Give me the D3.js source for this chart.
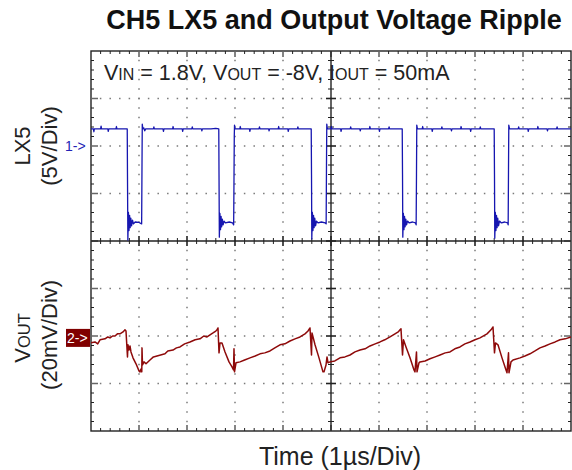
<!DOCTYPE html>
<html><head><meta charset="utf-8">
<script src="https://cdn.jsdelivr.net/npm/d3@7"></script>
<style>
html,body{margin:0;padding:0;background:#fff;}
svg{display:block;font-family:"Liberation Sans",Arial,Helvetica,sans-serif;}
</style></head><body>
<svg id="chart" width="572" height="470"></svg>
<script>
// Time base: 1 µs/div over 10 divisions
const timeDomain = [0, 10];
const ch1VoltsPerDiv = 5;    // LX5, V/div
const ch2MilliPerDiv = 20;   // VOUT, mV/div
const ch1ZeroDiv = 6;        // channel 1 ground, divisions above the bottom edge
const ch2ZeroDiv = 1.96;     // channel 2 ground, divisions above the bottom edge

// LX5 switch node, [time µs, volts]
const lx5Trace = [
  [0.00,1.8],[0.05,1.8],[0.06,1.5],[0.07,1.8],[0.20,1.8],[0.21,2.1],[0.22,1.8],[0.35,1.8],[0.36,1.55],[0.37,1.8],
  [0.52,1.8],[0.53,2.05],[0.54,1.8],[0.70,1.8],[0.755,1.8],
  [0.760,-3.0],[0.768,-9.9],[0.780,-7.0],[0.792,-8.9],[0.804,-7.3],[0.816,-8.6],[0.830,-7.6],[0.845,-8.4],[0.865,-7.8],
  [0.885,-8.2],[0.92,-8.0],[1.00,-8.05],[1.055,-8.2],
  [1.0625,-2.0],[1.068,2.3],[1.08,1.8],[1.10,1.9],[1.12,1.6],[1.14,1.8],[1.30,1.8],[1.31,2.0],[1.32,1.8],[1.50,1.8],
  [1.51,1.55],[1.52,1.8],[1.70,1.8],[1.71,2.05],[1.72,1.8],[1.90,1.8],[1.91,1.55],[1.92,1.8],[2.10,1.8],[2.11,2.0],
  [2.12,1.8],[2.30,1.8],[2.31,1.6],[2.32,1.8],[2.50,1.8],[2.60,1.85],[2.662,1.8],
  [2.667,-3.0],[2.674,-9.6],[2.686,-7.1],[2.698,-8.8],[2.710,-7.4],[2.722,-8.5],[2.736,-7.7],[2.752,-8.3],[2.772,-7.9],
  [2.80,-8.1],[2.88,-8.0],[2.95,-8.1],[2.972,-8.3],
  [2.979,-3.5],[2.985,1.0],[2.99,2.2],[3.00,1.8],[3.10,1.8],[3.11,2.05],[3.12,1.8],[3.30,1.8],[3.31,1.55],[3.32,1.8],
  [3.50,1.8],[3.51,2.0],[3.52,1.8],[3.70,1.8],[3.71,1.6],[3.72,1.8],[3.90,1.8],[3.91,2.05],[3.92,1.8],[4.10,1.8],
  [4.11,1.55],[4.12,1.8],[4.30,1.8],[4.31,2.0],[4.32,1.8],[4.50,1.8],[4.588,1.8],
  [4.594,-3.0],[4.600,-9.8],[4.612,-7.0],[4.624,-8.9],[4.636,-7.3],[4.648,-8.6],[4.662,-7.6],[4.678,-8.4],[4.698,-7.9],
  [4.73,-8.1],[4.80,-8.0],[4.88,-8.1],[4.899,-8.2],
  [4.906,-2.0],[4.912,2.3],[4.925,1.8],[5.00,1.8],[5.01,2.05],[5.02,1.8],[5.20,1.8],[5.21,1.55],[5.22,1.8],[5.40,1.8],
  [5.41,2.0],[5.42,1.8],[5.60,1.8],[5.61,1.6],[5.62,1.8],[5.80,1.8],[5.81,2.05],[5.82,1.8],[6.00,1.8],[6.01,1.55],
  [6.02,1.8],[6.20,1.8],[6.21,2.0],[6.22,1.8],[6.40,1.8],[6.484,1.8],
  [6.490,-3.0],[6.496,-9.6],[6.508,-7.1],[6.520,-8.8],[6.532,-7.4],[6.544,-8.5],[6.558,-7.7],[6.574,-8.3],[6.594,-7.9],
  [6.63,-8.1],[6.70,-8.0],[6.76,-8.1],[6.774,-8.3],
  [6.781,-3.0],[6.787,2.2],[6.80,1.8],[6.90,1.8],[6.91,2.05],[6.92,1.8],[7.10,1.8],[7.11,1.55],[7.12,1.8],[7.30,1.8],
  [7.31,2.0],[7.32,1.8],[7.50,1.8],[7.51,1.6],[7.52,1.8],[7.70,1.8],[7.71,2.05],[7.72,1.8],[7.90,1.8],[7.91,1.55],
  [7.92,1.8],[8.10,1.8],[8.11,2.0],[8.12,1.8],[8.30,1.8],[8.40,1.8],
  [8.406,-3.0],[8.412,-9.7],[8.424,-7.0],[8.436,-8.9],[8.448,-7.3],[8.460,-8.6],[8.474,-7.6],[8.490,-8.4],[8.510,-7.9],
  [8.55,-8.1],[8.62,-8.0],[8.68,-8.1],[8.691,-8.3],
  [8.698,-2.5],[8.704,2.2],[8.72,1.8],[8.90,1.8],[8.91,2.0],[8.92,1.8],[9.10,1.8],[9.11,1.55],[9.12,1.8],[9.30,1.8],
  [9.31,2.05],[9.32,1.8],[9.50,1.8],[9.51,1.6],[9.52,1.8],[9.70,1.8],[9.71,2.0],[9.72,1.8],[9.90,1.8],[10.0,1.8]
];

// Output voltage ripple (AC), [time µs, millivolts]
const voutTrace = [
  [0,-2.1],[0.083,-1.7],[0.14,-2.5],[0.188,-0.8],[0.292,-0.4],[0.35,0.4],[0.396,0],[0.45,0.8],[0.5,0.8],[0.55,1.7],
  [0.604,1.7],[0.667,2.5],[0.708,3.4],[0.729,2.9],
  [0.760,-8.0],[0.771,-2.9],[0.792,-5.1],[0.8125,-3.4],[0.833,-5.9],[0.875,-8.4],[0.9375,-10.9],[1.0,-13.9],[1.021,-14.3],
  [1.042,-13.1],[1.058,-14.3],[1.0625,-4.2],[1.073,-11.4],[1.104,-10.1],[1.146,-10.9],[1.229,-9.3],[1.30,-8.0],
  [1.375,-7.6],[1.45,-7.2],[1.542,-6.7],[1.60,-5.5],[1.708,-5.1],[1.78,-4.2],[1.854,-3.8],[1.95,-2.5],[2.0625,-1.7],
  [2.17,-0.8],[2.271,-0.4],[2.35,0.8],[2.417,0.4],[2.48,1.3],[2.542,2.1],[2.60,2.9],[2.625,3.4],[2.646,4.2],
  [2.667,-6.3],[2.6875,-2.1],[2.729,-2.1],[2.792,-5.9],[2.875,-10.1],[2.9375,-12.2],[2.969,-13.5],[2.979,-4.6],
  [2.990,-14.3],[3.021,-10.5],[3.104,-10.1],[3.20,-9.3],[3.3125,-8.4],[3.42,-7.6],[3.521,-6.7],[3.62,-6.3],[3.729,-5.5],
  [3.83,-4.2],[3.9375,-2.9],[4.04,-2.5],[4.146,-1.3],[4.25,-0.4],[4.354,0.4],[4.458,1.7],[4.521,2.9],[4.5625,4.2],
  [4.594,-7.2],[4.604,2.1],[4.667,-2.9],[4.75,-8.4],[4.833,-14.3],[4.854,-14.3],[4.896,-11.4],[4.917,-8.0],[4.9375,-10.5],
  [4.979,-10.1],[5.08,-9.7],[5.1875,-8.4],[5.29,-8.0],[5.396,-7.2],[5.50,-5.9],[5.604,-5.1],[5.71,-4.6],[5.8125,-3.4],
  [5.92,-2.5],[6.021,-1.7],[6.12,-0.8],[6.229,0.4],[6.333,1.7],[6.40,2.5],[6.4375,3.4],[6.458,3.8],
  [6.490,-7.2],[6.510,-0.8],[6.5625,-3.8],[6.646,-8.4],[6.729,-13.5],[6.75,-14.3],[6.781,-5.9],[6.792,-14.3],[6.833,-10.5],
  [6.854,-10.1],[6.96,-9.7],[7.0625,-8.8],[7.17,-8.0],[7.271,-7.2],[7.38,-6.3],[7.479,-5.9],[7.58,-4.6],[7.6875,-3.8],
  [7.79,-2.5],[7.896,-1.7],[8.0,-0.8],[8.104,0],[8.25,1.7],[8.333,3.4],[8.375,4.6],
  [8.406,-6.3],[8.427,-2.1],[8.479,-2.9],[8.5625,-8.4],[8.646,-13.5],[8.667,-14.7],[8.698,-6.3],[8.708,-14.7],[8.75,-10.1],
  [8.792,-9.3],[8.9375,-8.4],[9.04,-7.6],[9.146,-6.7],[9.25,-5.5],[9.354,-4.2],[9.46,-3.4],[9.5625,-2.5],[9.67,-1.7],
  [9.771,-0.8],[9.88,-0.4],[10.0,0.4]
];

const titleText = "CH5 LX5 and Output Voltage Ripple";
const xLabel = "Time (1\u00b5s/Div)";

// Screen geometry of the graticule
const plotL = 91, plotR = 571, plotT = 51, plotB = 431;
const hDivs = 10, vDivs = 8, subDivs = 5;

const svg = d3.select("#chart");

const x = d3.scaleLinear().domain(timeDomain).range([plotL, plotR]);
const grid = d3.scaleLinear().domain([0, vDivs]).range([plotB, plotT]);
const y1 = d3.scaleLinear()
  .domain([-ch1ZeroDiv * ch1VoltsPerDiv, (vDivs - ch1ZeroDiv) * ch1VoltsPerDiv])
  .range([plotB, plotT]);
const y2 = d3.scaleLinear()
  .domain([-ch2ZeroDiv * ch2MilliPerDiv, (vDivs - ch2ZeroDiv) * ch2MilliPerDiv])
  .range([plotB, plotT]);

const isWhole = v => Math.abs(v - Math.round(v)) < 1e-6;

// Dotted graticule: dots every minor step along each major line
const gDots = svg.append("g").attr("fill", "#7a7a7a");
const minorX = d3.range(0, hDivs * subDivs + 1).map(i => i / subDivs);
const minorY = d3.range(0, vDivs * subDivs + 1).map(i => i / subDivs);
const majorX = d3.range(1, hDivs).filter(d => d !== hDivs / 2);
const majorY = d3.range(1, vDivs).filter(d => d !== vDivs / 2);
majorX.forEach(d => {
  gDots.selectAll(null).data(minorY.slice(1, -1)).join("rect")
    .attr("x", x(d) - 0.75).attr("y", v => grid(v) - 0.75).attr("width", 1.5).attr("height", 1.5);
});
majorY.forEach(d => {
  gDots.selectAll(null).data(minorX.slice(1, -1)).join("rect")
    .attr("x", t => x(t) - 0.75).attr("y", grid(d) - 0.75).attr("width", 1.5).attr("height", 1.5);
});

// Border frame with inward ticks
svg.append("rect").attr("x", plotL).attr("y", plotT).attr("width", plotR - plotL).attr("height", plotB - plotT)
  .attr("fill", "none").attr("stroke", "#222").attr("stroke-width", 1.4);

const minorTicksX = minorX.filter(t => !isWhole(t));
const minorTicksY = minorY.filter(v => !isWhole(v));
const majTicksX = d3.range(1, hDivs);
const majTicksY = d3.range(1, vDivs);

const tickG = svg.append("g");
tickG.selectAll(null).data(minorTicksX).join("path")
  .attr("d", t => `M${x(t)},${plotT}v3M${x(t)},${plotB}v-3`)
  .attr("stroke", "#222").attr("stroke-width", 1);
tickG.selectAll(null).data(minorTicksY).join("path")
  .attr("d", v => `M${plotL},${grid(v)}h3M${plotR},${grid(v)}h-3`)
  .attr("stroke", "#222").attr("stroke-width", 1);
tickG.selectAll(null).data(majTicksX).join("path")
  .attr("d", t => `M${x(t)},${plotT}v6M${x(t)},${plotB}v-6`)
  .attr("stroke", "#666").attr("stroke-width", 1.6);
tickG.selectAll(null).data(majTicksY).join("path")
  .attr("d", v => `M${plotL},${grid(v)}h7M${plotR},${grid(v)}h-7`)
  .attr("stroke", "#666").attr("stroke-width", 1.6);

// Centre crosshair with ticks on both sides
const cx = x((timeDomain[0] + timeDomain[1]) / 2), cy = grid(vDivs / 2);
const cross = svg.append("g").attr("stroke", "#222");
cross.append("line").attr("x1", plotL).attr("x2", plotR).attr("y1", cy).attr("y2", cy).attr("stroke-width", 1.4);
cross.append("line").attr("x1", cx).attr("x2", cx).attr("y1", plotT).attr("y2", plotB).attr("stroke-width", 1.4);
cross.selectAll(null).data(minorX.slice(1, -1)).join("line")
  .attr("x1", t => x(t)).attr("x2", t => x(t))
  .attr("y1", t => cy - (isWhole(t) ? 5 : 3))
  .attr("y2", t => cy + (isWhole(t) ? 5 : 3))
  .attr("stroke-width", t => isWhole(t) ? 1.6 : 1);
cross.selectAll(null).data(minorY.slice(1, -1)).join("line")
  .attr("y1", v => grid(v)).attr("y2", v => grid(v))
  .attr("x1", v => cx - (isWhole(v) ? 5 : 3))
  .attr("x2", v => cx + (isWhole(v) ? 5 : 3))
  .attr("stroke-width", v => isWhole(v) ? 1.6 : 1);

// Traces
svg.append("clipPath").attr("id", "plotclip")
  .append("rect").attr("x", plotL).attr("y", plotT - 2).attr("width", plotR - plotL).attr("height", plotB - plotT + 4);

const line1 = d3.line().x(d => x(d[0])).y(d => y1(d[1]));
const line2 = d3.line().x(d => x(d[0])).y(d => y2(d[1]));

svg.append("path").datum(voutTrace).attr("d", line2)
  .attr("clip-path", "url(#plotclip)")
  .attr("fill", "none").attr("stroke", "#8e0a0a").attr("stroke-width", 1.5).attr("stroke-linejoin", "round");
svg.append("path").datum(lx5Trace).attr("d", line1)
  .attr("clip-path", "url(#plotclip)")
  .attr("fill", "none").attr("stroke", "#1616b0").attr("stroke-width", 1.3).attr("stroke-linejoin", "round");

// Channel ground markers
svg.append("text").attr("x", 65).attr("y", y1(0) + 5)
  .attr("font-size", 14).attr("fill", "#2323b5").text("1->");
const m2 = svg.append("g");
m2.append("rect").attr("x", 66).attr("y", y2(0) - 9).attr("width", 24).attr("height", 18).attr("fill", "#800000");
m2.append("text").attr("x", 67).attr("y", y2(0) + 5)
  .attr("font-size", 14).attr("fill", "#fff").text("2->");

// Title
svg.append("text").attr("x", 334).attr("y", 29).attr("text-anchor", "middle")
  .attr("font-size", 27).attr("font-weight", "bold").attr("fill", "#111").text(titleText);

// Operating conditions
const cond = svg.append("text").attr("x", 104).attr("y", 80).attr("font-size", 21.5).attr("fill", "#222");
[["V", false], ["IN", true], [" = 1.8V, V", false], ["OUT", true], [" = -8V, I", false], ["OUT", true], [" = 50mA", false]]
  .forEach(([s, sub]) => cond.append("tspan").attr("font-size", sub ? 16 : 21.5).text(s));

// Channel labels
svg.append("text").attr("transform", `translate(30,${y1(0)}) rotate(-90)`)
  .attr("text-anchor", "middle").attr("font-size", 22).attr("fill", "#222").text("LX5");
svg.append("text").attr("transform", `translate(57,${y1(0)}) rotate(-90)`)
  .attr("text-anchor", "middle").attr("font-size", 22).attr("fill", "#222").text("(5V/Div)");
const yl2 = svg.append("text").attr("transform", `translate(30,${y2(0)}) rotate(-90)`)
  .attr("text-anchor", "middle").attr("font-size", 22).attr("fill", "#222");
yl2.append("tspan").text("V");
yl2.append("tspan").attr("font-size", 16.5).text("OUT");
svg.append("text").attr("transform", `translate(57,${y2(0) - 3}) rotate(-90)`)
  .attr("text-anchor", "middle").attr("font-size", 22).attr("fill", "#222").text("(20mV/Div)");

// Time axis label
svg.append("text").attr("x", 340).attr("y", 465).attr("text-anchor", "middle")
  .attr("font-size", 25).attr("fill", "#222").text(xLabel);
</script>
</body></html>
